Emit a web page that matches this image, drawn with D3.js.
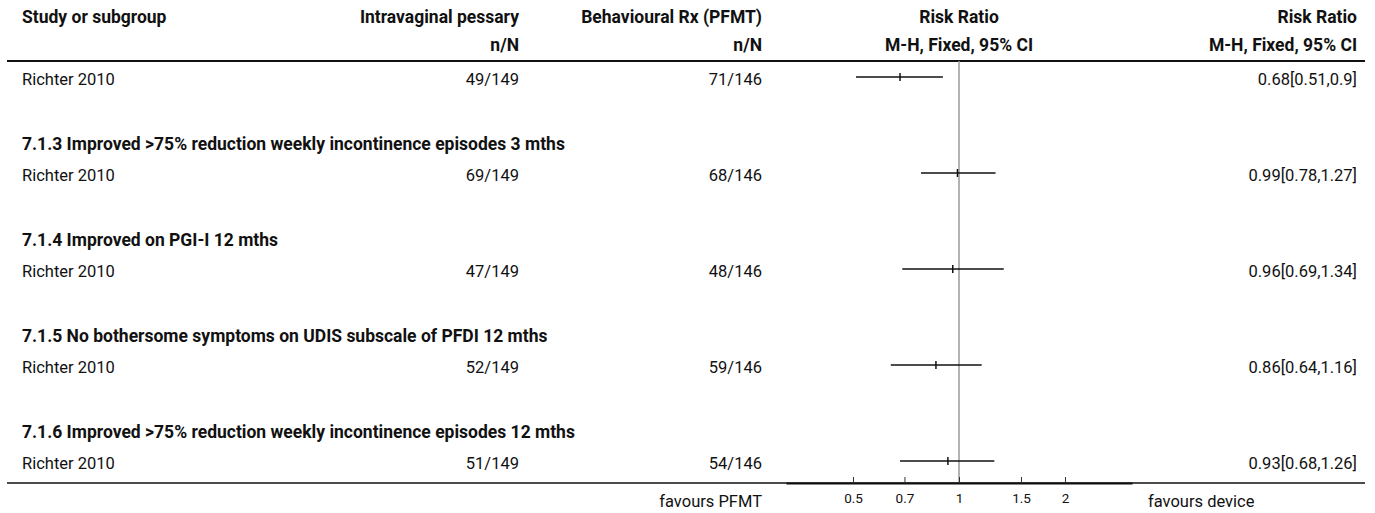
<!DOCTYPE html>
<html><head><meta charset="utf-8">
<script src="https://cdn.jsdelivr.net/npm/d3@7"></script>
<style>
html,body{margin:0;padding:0;background:#fff;}
svg text{font-family:"Roboto","Open Sans",sans-serif;fill:#111;}
</style></head>
<body><svg id="c" width="1375" height="513"></svg>
<script>
const subgroups = ["", "7.1.3 Improved >75% reduction weekly incontinence episodes 3 mths", "7.1.4 Improved on PGI-I 12 mths", "7.1.5 No bothersome symptoms on UDIS subscale of PFDI 12 mths", "7.1.6 Improved >75% reduction weekly incontinence episodes 12 mths"];
const studies = ["Richter 2010","Richter 2010","Richter 2010","Richter 2010","Richter 2010"];
const pessaryEvents = [49,69,47,52,51];
const pessaryTotal = [149,149,149,149,149];
const pfmtEvents = [71,68,48,59,54];
const pfmtTotal = [146,146,146,146,146];
const rr = [0.68,0.99,0.96,0.86,0.93];
const ciLow = [0.51,0.78,0.69,0.64,0.68];
const ciHigh = [0.9,1.27,1.34,1.16,1.26];
const ciLabels = ["0.68[0.51,0.9]","0.99[0.78,1.27]","0.96[0.69,1.34]","0.86[0.64,1.16]","0.93[0.68,1.26]"];
const tickValues = [0.5,0.7,1,1.5,2];
const tickLabels = ["0.5","0.7","1","1.5","2"];
const headers1 = ["Study or subgroup","Intravaginal pessary","Behavioural Rx (PFMT)","Risk Ratio","Risk Ratio"];
const headers2 = ["","n/N","n/N","M-H, Fixed, 95% CI","M-H, Fixed, 95% CI"];
const favours = ["favours PFMT","favours device"];

const FN = 16.5, FB = 17.5;
const svg = d3.select("#c");
const x = d3.scaleLog().domain([1/3.1, 3.1]).range([786, 1132]);
const row = d3.scaleLinear().domain([0,12]).range([79,463]);
const colX = [22, 519, 762, x(1), 1357];
const colAnchor = ["start","end","end","middle","end"];
const topLine = 61, axisY = 483;

// header
headers1.forEach((h,i)=>{
  svg.append("text").attr("x",colX[i]).attr("y",23).attr("text-anchor",colAnchor[i])
    .attr("font-weight","bold").attr("font-size",FB).text(h);
  if(headers2[i]) svg.append("text").attr("x",colX[i]).attr("y",51).attr("text-anchor",colAnchor[i])
    .attr("font-weight","bold").attr("font-size",FB).text(headers2[i]);
});
svg.append("line").attr("x1",7).attr("x2",1365).attr("y1",topLine).attr("y2",topLine)
  .attr("stroke","#111").attr("stroke-width",2);

// reference line
svg.append("line").attr("x1",x(1)).attr("x2",x(1)).attr("y1",topLine).attr("y2",axisY)
  .attr("stroke","#999").attr("stroke-width",1.5);

// rows
studies.forEach((s,i)=>{
  const r = i===0 ? 0 : 3*i;
  if(subgroups[i]) svg.append("text").attr("x",colX[0]).attr("y",row(r-1)+6.5)
    .attr("font-weight","bold").attr("font-size",FB).text(subgroups[i]);
  const y = row(r);
  svg.append("text").attr("x",colX[0]).attr("y",y+6).attr("font-size",FN).text(s);
  svg.append("text").attr("x",colX[1]).attr("y",y+6).attr("text-anchor","end").attr("font-size",FN)
    .text(pessaryEvents[i]+"/"+pessaryTotal[i]);
  svg.append("text").attr("x",colX[2]).attr("y",y+6).attr("text-anchor","end").attr("font-size",FN)
    .text(pfmtEvents[i]+"/"+pfmtTotal[i]);
  svg.append("text").attr("x",colX[4]).attr("y",y+6).attr("text-anchor","end").attr("font-size",FN)
    .text(ciLabels[i]);
  const ly = y-2;
  svg.append("line").attr("x1",x(ciLow[i])).attr("x2",x(ciHigh[i])).attr("y1",ly).attr("y2",ly)
    .attr("stroke","#111").attr("stroke-width",1.3);
  svg.append("line").attr("x1",x(rr[i])).attr("x2",x(rr[i])).attr("y1",ly-4).attr("y2",ly+4)
    .attr("stroke","#111").attr("stroke-width",1.5);
});

// bottom line & axis
svg.append("line").attr("x1",7).attr("x2",1365).attr("y1",axisY).attr("y2",axisY)
  .attr("stroke","#111").attr("stroke-width",1.5);
const axis = d3.axisTop(x).tickValues(tickValues).tickFormat((d,i)=>tickLabels[i]).tickSize(6).tickSizeOuter(0);
const ag = svg.append("g").attr("transform",`translate(0,${axisY})`).call(axis);
ag.select(".domain").attr("stroke","#111").attr("stroke-width",2.2);
ag.selectAll(".tick line").attr("stroke","#333");
ag.selectAll(".tick text").attr("y",19.5).attr("dy",0).attr("font-size",13.5).attr("font-family","Roboto, Open Sans, sans-serif").attr("fill","#111");

svg.append("text").attr("x",762).attr("y",506.5).attr("text-anchor","end").attr("font-size",FN).text(favours[0]);
svg.append("text").attr("x",1148).attr("y",506.5).attr("font-size",FN).text(favours[1]);
</script></body></html>
